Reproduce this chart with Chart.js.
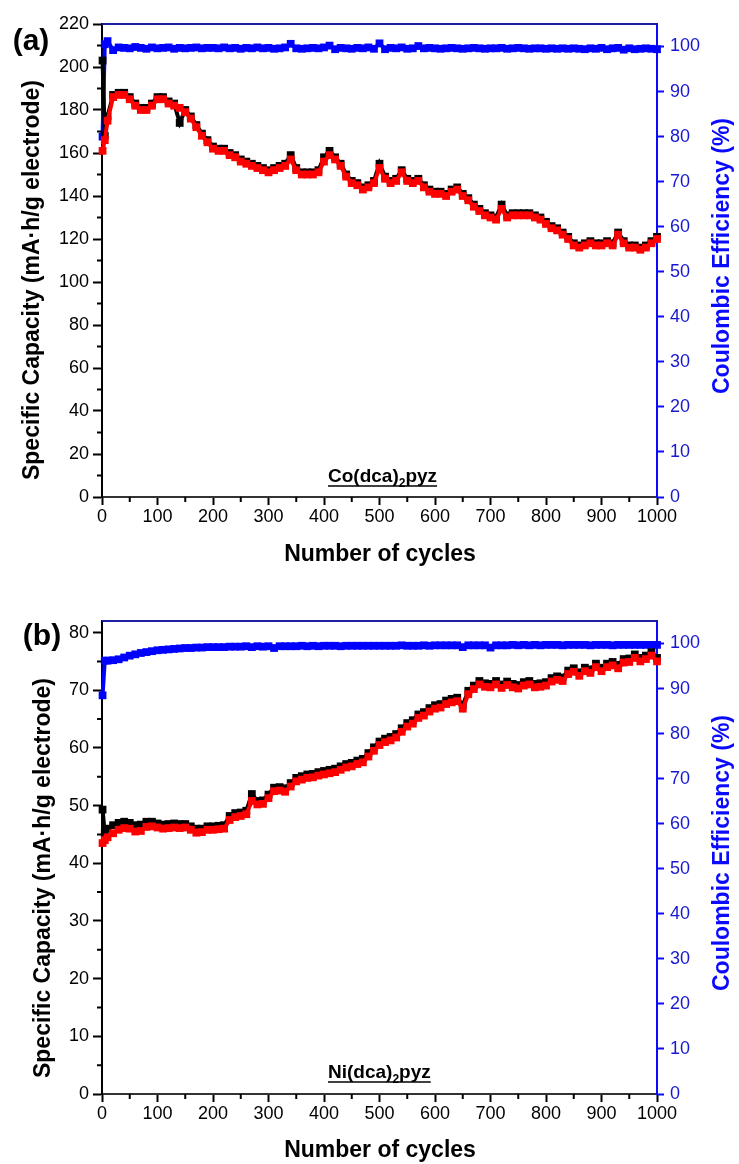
<!DOCTYPE html>
<html>
<head>
<meta charset="utf-8">
<script src="https://cdn.jsdelivr.net/npm/chart.js@4.4.0/dist/chart.umd.min.js"></script>
<style>
  body { margin: 0; background: #fff; width: 739px; height: 1164px; overflow: hidden; position: relative; }
  .panel { position: absolute; left: 0; width: 739px; }
</style>
</head>
<body>
<div class="panel" style="top:0;height:580px"><canvas id="chartA" width="739" height="580"></canvas></div>
<div class="panel" style="top:580px;height:584px"><canvas id="chartB" width="739" height="584"></canvas></div>
<script>
// cycle numbers the values were read at
var cycles = [1, 5, 10, 20, 30, 40, 50, 60, 70, 80, 90, 100,
  110, 120, 130, 140, 150, 160, 170, 180, 190, 200,
  210, 220, 230, 240, 250, 260, 270, 280, 290, 300,
  310, 320, 330, 340, 350, 360, 370, 380, 390, 400,
  410, 420, 430, 440, 450, 460, 470, 480, 490, 500,
  510, 520, 530, 540, 550, 560, 570, 580, 590, 600,
  610, 620, 630, 640, 650, 660, 670, 680, 690, 700,
  710, 720, 730, 740, 750, 760, 770, 780, 790, 800,
  810, 820, 830, 840, 850, 860, 870, 880, 890, 900,
  910, 920, 930, 940, 950, 960, 970, 980, 990, 1000];

// (a) Co(dca)2pyz
var chargeA = [203, 168,
  177, 187, 188, 188, 186, 183, 181, 181, 183, 186,
  186, 184, 183, 174, 180, 177, 173, 169, 166, 163,
  162, 162, 160, 159, 157, 156, 155, 154, 153, 152,
  153, 154, 155, 159, 153, 151, 151, 151, 152, 158,
  161, 158, 155, 150, 147, 146, 144, 145, 147, 155,
  149, 147, 148, 152, 148, 147, 148, 145, 143, 142,
  142, 141, 143, 144, 141, 139, 136, 134, 132, 131,
  130, 136, 131, 132, 132, 132, 132, 131, 130, 128,
  126, 125, 123, 121, 118, 117, 118, 119, 118, 118,
  119, 118, 123, 119, 117, 117, 116, 117, 119, 121];
var dischargeA = [161, 166,
  175, 186, 187, 187, 185, 182, 180, 180, 182, 185,
  185, 183, 182, 181, 179, 176, 172, 168, 165, 162,
  161, 161, 159, 158, 156, 155, 154, 153, 152, 151,
  152, 153, 154, 157, 152, 150, 150, 150, 151, 156,
  159, 157, 154, 149, 146, 145, 143, 144, 146, 153,
  148, 146, 147, 151, 147, 146, 147, 144, 142, 141,
  141, 140, 142, 143, 140, 138, 135, 133, 131, 130,
  129, 134, 130, 131, 131, 131, 131, 130, 129, 127,
  125, 124, 122, 120, 117, 116, 117, 118, 117, 117,
  118, 117, 122, 118, 116, 116, 115, 116, 118, 120];
var effA = [80, 100.5,
  101.2, 99.2, 99.8, 99.7, 99.6, 99.9, 99.7, 99.5, 99.8, 99.6,
  99.7, 99.8, 99.5, 99.7, 99.6, 99.7, 99.8, 99.6, 99.7, 99.7,
  99.6, 99.8, 99.6, 99.7, 99.5, 99.7, 99.6, 99.8, 99.6, 99.7,
  99.5, 99.6, 99.8, 100.6, 99.6, 99.5, 99.6, 99.7, 99.6, 99.8,
  100.2, 99.4, 99.7, 99.6, 99.5, 99.7, 99.6, 99.8, 99.5, 100.7,
  99.4, 99.7, 99.6, 99.8, 99.5, 99.6, 100.1, 99.6, 99.7, 99.6,
  99.5, 99.6, 99.7, 99.6, 99.5, 99.6, 99.7, 99.6, 99.5, 99.6,
  99.6, 99.7, 99.5, 99.6, 99.7, 99.6, 99.5, 99.6, 99.6, 99.5,
  99.6, 99.5, 99.6, 99.5, 99.6, 99.5, 99.4, 99.6, 99.5, 99.7,
  99.4, 99.6, 99.7, 99.3, 99.6, 99.4, 99.5, 99.6, 99.5, 99.4];

// (b) Ni(dca)2pyz
var chargeB = [49.3, 45.2,
  46.0, 46.6, 47.0, 47.2, 47.0, 46.6, 46.7, 47.2, 47.2, 46.9,
  46.7, 46.8, 46.9, 46.8, 46.8, 46.4, 46.0, 46.0, 46.4, 46.4,
  46.5, 46.6, 48.2, 48.7, 48.8, 49.1, 52.0, 50.8, 50.9, 51.9,
  53.1, 53.2, 53.0, 53.9, 54.8, 55.1, 55.4, 55.5, 55.8, 56.0,
  56.2, 56.4, 56.8, 57.2, 57.4, 57.8, 58.1, 59.1, 60.1, 61.1,
  61.6, 61.9, 62.4, 63.4, 64.3, 64.8, 65.8, 66.2, 66.9, 67.4,
  67.6, 68.2, 68.5, 68.7, 67.4, 69.9, 70.8, 71.6, 71.2, 71.1,
  71.6, 71.0, 71.5, 71.1, 70.9, 71.4, 71.6, 71.1, 71.2, 71.4,
  72.1, 72.4, 72.2, 73.4, 73.8, 73.1, 73.9, 73.6, 74.6, 73.9,
  74.6, 74.9, 74.4, 75.4, 75.5, 76.2, 75.6, 76.0, 76.6, 75.6];
var dischargeB = [43.5, 44.0,
  44.5, 45.2, 45.8, 46.1, 46.0, 45.5, 45.6, 46.3, 46.4, 46.2,
  46.0, 46.1, 46.2, 46.1, 46.2, 45.8, 45.3, 45.4, 45.8, 45.8,
  45.9, 46.0, 47.5, 48.0, 48.2, 48.5, 50.8, 50.2, 50.3, 51.3,
  52.5, 52.6, 52.4, 53.3, 54.2, 54.5, 54.8, 54.9, 55.2, 55.4,
  55.6, 55.8, 56.2, 56.6, 56.8, 57.2, 57.5, 58.5, 59.5, 60.5,
  61.0, 61.3, 61.8, 62.8, 63.7, 64.2, 65.2, 65.6, 66.3, 66.8,
  67.0, 67.6, 67.9, 68.1, 66.8, 69.3, 70.2, 71.0, 70.6, 70.5,
  71.0, 70.4, 70.9, 70.5, 70.3, 70.8, 71.0, 70.5, 70.6, 70.8,
  71.5, 71.8, 71.6, 72.8, 73.2, 72.5, 73.3, 73.0, 74.0, 73.3,
  74.0, 74.3, 73.8, 74.8, 74.9, 75.6, 75.0, 75.4, 76.0, 75.0];
var effB = [88.5, 96.2,
  96.2, 96.3, 96.5, 96.9, 97.3, 97.6, 97.9, 98.1, 98.3, 98.5,
  98.6, 98.7, 98.8, 98.9, 99.0, 99.0, 99.1, 99.1, 99.2, 99.2,
  99.2, 99.2, 99.3, 99.3, 99.3, 99.4, 99.2, 99.4, 99.3, 99.4,
  99.0, 99.4, 99.4, 99.4, 99.4, 99.5, 99.4, 99.5, 99.4, 99.5,
  99.5, 99.5, 99.4, 99.5, 99.5, 99.5, 99.5, 99.5, 99.5, 99.5,
  99.5, 99.5, 99.5, 99.6, 99.5, 99.5, 99.5, 99.6, 99.5, 99.6,
  99.6, 99.6, 99.6, 99.6, 99.2, 99.6, 99.6, 99.6, 99.6, 99.1,
  99.6, 99.6, 99.6, 99.7, 99.6, 99.7, 99.6, 99.7, 99.6, 99.7,
  99.7, 99.7, 99.6, 99.7, 99.7, 99.7, 99.7, 99.6, 99.7, 99.7,
  99.7, 99.6, 99.7, 99.7, 99.7, 99.7, 99.7, 99.7, 99.7, 99.7];

var FONT = "'Liberation Sans', Arial, sans-serif";
var BLUE = '#0a0aff';
var BLUE_TXT = '#1818d0';

function series(vals, color, axis) {
    return {
        data: cycles.map(function(c, i) { return { x: c, y: vals[i] }; }),
        yAxisID: axis,
        showLine: true,
        borderColor: color,
        backgroundColor: color,
        borderWidth: 4,
        pointStyle: 'rect',
        pointRadius: 5.5,
        pointBorderWidth: 0,
        pointHoverRadius: 5.5,
        clip: false
    };
}

// explicit tick list 0, step, 2*step ... up to max
function fixedTicks(step) {
    return function(s) {
        var t = [];
        for (var v = 0; v <= s.max + 1e-9; v += step) t.push({ value: v });
        s.ticks = t;
    };
}

function plain(v) { return String(v); }

function drawRotated(ctx, text, x, y, angle, font, color) {
    ctx.save();
    ctx.translate(x, y);
    ctx.rotate(angle);
    ctx.font = font;
    ctx.fillStyle = color;
    ctx.textAlign = 'center';
    ctx.textBaseline = 'middle';
    ctx.fillText(text, 0, 0);
    ctx.restore();
}

var decor = {
    id: 'decor',
    afterDraw: function(chart) {
        var p = chart.options.plugins.decor;
        var ctx = chart.ctx;
        var a = chart.chartArea;
        var x = chart.scales.x, yL = chart.scales.yL;
        ctx.save();
        // top frame
        ctx.strokeStyle = '#1e1ea0';
        ctx.lineWidth = 2;
        ctx.beginPath();
        ctx.moveTo(a.left, a.top);
        ctx.lineTo(a.right, a.top);
        ctx.stroke();
        // minor ticks
        ctx.strokeStyle = '#000';
        ctx.lineWidth = 2;
        ctx.beginPath();
        for (var v = p.minorY; v < yL.max; v += p.minorY * 2) {
            var py = yL.getPixelForValue(v);
            ctx.moveTo(a.left - 5, py);
            ctx.lineTo(a.left, py);
        }
        for (var c = 50; c < 1000; c += 100) {
            var px = x.getPixelForValue(c);
            ctx.moveTo(px, a.bottom);
            ctx.lineTo(px, a.bottom + 5);
        }
        ctx.stroke();
        // axis titles
        drawRotated(ctx, 'Specific Capacity (mA\u00b7h/g electrode)', p.leftTitle[0], p.leftTitle[1], -Math.PI / 2, 'bold 23px ' + FONT, '#000');
        drawRotated(ctx, 'Coulombic Efficiency (%)', 723, p.rightTitleY, -Math.PI / 2, 'bold 23px ' + FONT, BLUE);
        drawRotated(ctx, 'Number of cycles', 380, p.xTitleY, 0, 'bold 23px ' + FONT, '#000');
        drawRotated(ctx, p.tag, p.tagPos[0], p.tagPos[1], 0, 'bold 30px ' + FONT, '#000');
        // compound name, underlined
        ctx.fillStyle = '#000';
        ctx.textAlign = 'left';
        ctx.textBaseline = 'alphabetic';
        var tx = 328, ty = p.nameY;
        ctx.font = 'bold 19px ' + FONT;
        ctx.fillText(p.name, tx, ty);
        tx += ctx.measureText(p.name).width;
        ctx.font = 'bold 12px ' + FONT;
        ctx.fillText('2', tx, ty + 5);
        tx += ctx.measureText('2').width;
        ctx.font = 'bold 19px ' + FONT;
        ctx.fillText('pyz', tx, ty);
        tx += ctx.measureText('pyz').width;
        ctx.lineWidth = 1.5;
        ctx.beginPath();
        ctx.moveTo(328, ty + 4);
        ctx.lineTo(tx, ty + 4);
        ctx.stroke();
        ctx.restore();
    }
};

function panel(id, cfg) {
    var ctx = document.getElementById(id).getContext('2d');
    return new Chart(ctx, {
        type: 'scatter',
        data: {
            datasets: [
                series(cfg.discharge, '#ff0000', 'yL'),
                series(cfg.charge, '#000000', 'yL'),
                series(cfg.eff, '#0000ff', 'yR')
            ]
        },
        options: {
            responsive: false,
            animation: false,
            events: [],
            layout: { padding: { top: cfg.top, left: 0, right: 0, bottom: 0 } },
            plugins: {
                legend: { display: false },
                tooltip: { enabled: false },
                decor: cfg.decor
            },
            scales: {
                x: {
                    type: 'linear',
                    min: 0,
                    max: 1000,
                    afterFit: function(s) { s.height = cfg.xHeight; },
                    afterBuildTicks: fixedTicks(100),
                    ticks: { callback: plain, padding: 1, color: '#000', font: { family: FONT, size: 18 } },
                    grid: { drawOnChartArea: false, tickLength: 8, tickWidth: 2, tickColor: '#000' },
                    border: { color: '#333', width: 2 }
                },
                yL: {
                    position: 'left',
                    min: 0,
                    max: cfg.yMax,
                    afterFit: function(s) { s.width = 102; },
                    afterBuildTicks: fixedTicks(cfg.yStep),
                    ticks: { callback: plain, padding: 4, color: '#000', font: { family: FONT, size: 18 } },
                    grid: { drawOnChartArea: false, tickLength: 9, tickWidth: 2, tickColor: '#000' },
                    border: { color: '#000', width: 2 }
                },
                yR: {
                    position: 'right',
                    min: 0,
                    max: 105,
                    afterFit: function(s) { s.width = 82; },
                    afterBuildTicks: fixedTicks(10),
                    ticks: { callback: plain, padding: 6, color: BLUE_TXT, font: { family: FONT, size: 18 } },
                    grid: { drawOnChartArea: false, tickLength: 7, tickWidth: 2, tickColor: BLUE },
                    border: { color: BLUE, width: 2 }
                }
            }
        },
        plugins: [decor]
    });
}

panel('chartA', {
    charge: chargeA, discharge: dischargeA, eff: effA,
    top: 24, xHeight: 83, yMax: 220, yStep: 20,
    decor: {
        minorY: 10, leftTitle: [33, 280], rightTitleY: 256, xTitleY: 555,
        tag: '(a)', tagPos: [31, 42], name: 'Co(dca)', nameY: 482
    }
});
panel('chartB', {
    charge: chargeB, discharge: dischargeB, eff: effB,
    top: 41, xHeight: 70, yMax: 82, yStep: 10,
    decor: {
        minorY: 5, leftTitle: [44, 298], rightTitleY: 273, xTitleY: 571,
        tag: '(b)', tagPos: [42, 57], name: 'Ni(dca)', nameY: 498
    }
});
</script>
</body>
</html>
